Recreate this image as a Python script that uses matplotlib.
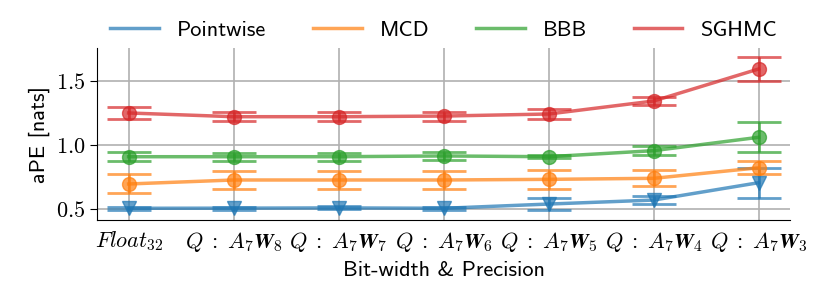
import matplotlib
matplotlib.use("Agg")
import matplotlib.pyplot as plt
import numpy as np

plt.rcParams['font.family'] = 'cmss10'
plt.rcParams['mathtext.fontset'] = 'cm'
plt.rcParams['axes.formatter.use_mathtext'] = True
plt.rcParams['axes.unicode_minus'] = False

# x categories
labels = [r'$Float_{32}$',
          r'$Q\;:\;A_7\mathbfit{W}_{\mathbf{8}}$',
          r'$Q\;:\;A_7\mathbfit{W}_{\mathbf{7}}$',
          r'$Q\;:\;A_7\mathbfit{W}_{\mathbf{6}}$',
          r'$Q\;:\;A_7\mathbfit{W}_{\mathbf{5}}$',
          r'$Q\;:\;A_7\mathbfit{W}_{\mathbf{4}}$',
          r'$Q\;:\;A_7\mathbfit{W}_{\mathbf{3}}$']
yticks = [0.5, 1.0, 1.5]
ytick_labels = [r'$0.5$', r'$1.0$', r'$1.5$']

# aPE means and errors
pointwise = [0.508, 0.509, 0.511, 0.508, 0.541, 0.572, 0.707]
pointwise_err = [0.012, 0.012, 0.012, 0.012, 0.045, 0.031, 0.117]
mcd = [0.697, 0.728, 0.728, 0.728, 0.733, 0.741, 0.823]
mcd_err = [0.074, 0.071, 0.071, 0.072, 0.072, 0.062, 0.052]
bbb = [0.909, 0.909, 0.909, 0.915, 0.909, 0.956, 1.060]
bbb_err = [0.033, 0.030, 0.030, 0.030, 0.010, 0.035, 0.118]
sghmc = [1.249, 1.220, 1.220, 1.225, 1.241, 1.342, 1.591]
sghmc_err = [0.043, 0.035, 0.035, 0.035, 0.037, 0.030, 0.097]

series = [('Pointwise', pointwise, pointwise_err, 'v', 'tab:blue'),
          ('MCD', mcd, mcd_err, 'o', 'tab:orange'),
          ('BBB', bbb, bbb_err, 'o', 'tab:green'),
          ('SGHMC', sghmc, sghmc_err, 'o', 'tab:red')]

fig = plt.figure(figsize=(8.3, 2.91), dpi=100)
ax = fig.add_axes([0.117, 0.244, 0.835, 0.591])

x = np.arange(len(labels))
handles = []
for name, vals, err, m, c in series:
    ax.errorbar(x, vals, yerr=err, fmt=m + '-', color=c, alpha=0.7,
                markersize=10, linewidth=2.5, elinewidth=2, capsize=16,
                capthick=2, zorder=3)
    h, = ax.plot([], [], color=c, alpha=0.7, linewidth=2.5, label=name)
    handles.append(h)

ax.set_xticks(x)
ax.set_xticklabels(labels, fontsize=16)
ax.set_yticks(yticks)
ax.set_yticklabels(ytick_labels, fontsize=16)
ax.tick_params(axis='y', length=5)
ax.tick_params(axis='x', length=0, pad=7)
ax.set_ylim(0.417, 1.754)
ax.grid(True, color='#b0b0b0', linewidth=1.2)
ax.set_axisbelow(True)
ax.spines['top'].set_visible(False)
ax.spines['right'].set_visible(False)
ax.set_ylabel('aPE [nats]', fontsize=16, labelpad=4)
ax.set_xlabel('Bit-width & Precision', fontsize=16, labelpad=5)

ax.legend(handles=handles, loc='center', bbox_to_anchor=(0.5, 1.105),
          ncol=4, frameon=False, fontsize=16, handlelength=2.2,
          handletextpad=0.8, columnspacing=2.1)

fig.savefig('out.png', dpi=100)
